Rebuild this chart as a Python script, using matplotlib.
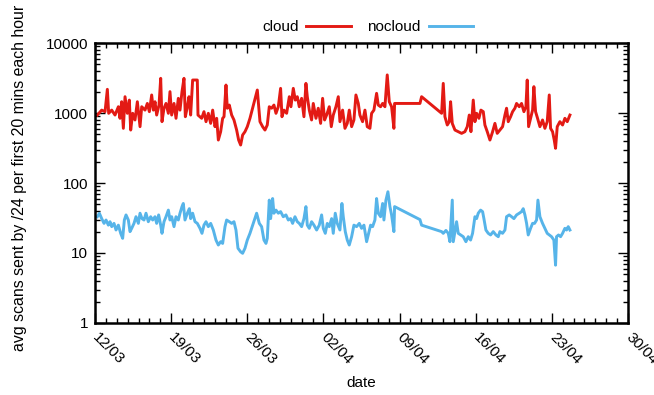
import numpy as np
import pandas as pd
import matplotlib
matplotlib.use('Agg')
import matplotlib.pyplot as plt
import matplotlib.dates as mdates
from matplotlib.ticker import FixedLocator, NullFormatter

plt.rcParams['font.family'] = ['Liberation Sans', 'DejaVu Sans']

# --- data: hours since 12/03 00:00, scans per /24 ---
START = pd.Timestamp('2015-03-12')

cloud_hours = [
    5.1, 14.7, 22.1, 27.2, 30.1, 36.8, 44.1, 51.5, 55.1, 58.8, 62.5, 66.2, 71.3, 75.7, 78.7,
    83.1, 88.2, 93.4, 99.3, 103.0, 110.3, 115.4, 119.9, 125.0, 128.7, 132.4, 136.0, 141.2,
    144.9, 147.8, 152.2, 156.6, 161.8, 165.4, 169.1, 174.3, 178.7, 183.8, 187.5, 191.9,
    196.3, 199.3, 203.7, 207.4, 211.0, 215.4, 225.7, 227.2, 235.3, 240.4, 244.9, 250.0,
    255.2, 259.6, 264.7, 268.4, 272.1, 277.2, 281.6, 284.6, 289.0, 291.9, 296.3, 301.5,
    306.6, 312.5, 316.9, 321.3, 325.7, 330.9, 336.0, 341.9, 358.1, 364.0, 369.8, 375.0,
    380.1, 384.5, 389.7, 394.8, 399.3, 404.4, 409.5, 412.5, 416.9, 422.8, 428.7, 432.3,
    437.5, 441.9, 446.3, 450.7, 455.9, 461.0, 465.4, 468.4, 472.8, 477.9, 481.6, 487.5,
    492.6, 497.8, 502.2, 506.6, 511.0, 516.9, 521.3, 525.7, 531.6, 536.8, 540.4, 546.3,
    551.5, 556.6, 561.0, 566.2, 571.3, 575.7, 580.9, 584.5, 590.4, 595.6, 600.7, 606.6,
    610.3, 615.4, 621.3, 625.0, 630.1, 634.6, 639.7, 644.8, 649.3, 654.4, 659.5, 661.0,
    717.0, 720.6, 764.8, 768.4, 772.1, 777.3, 781.7, 784.6, 788.3, 794.2, 801.5, 808.9,
    816.2, 821.4, 825.8, 829.5, 834.6, 838.3, 842.0, 847.1, 851.5, 856.7, 860.3, 865.5,
    871.4, 877.3, 882.4, 887.5, 893.4, 899.3, 904.5, 908.1, 911.8, 917.0, 921.4, 926.5,
    930.2, 936.1, 941.2, 946.4, 950.8, 953.7, 956.7, 961.1, 965.5, 968.4, 972.1, 976.5,
    981.7, 987.5, 992.7, 997.8, 1002.3, 1005.2, 1009.6, 1013.3, 1016.2, 1019.9, 1025.8,
    1031.7, 1036.8, 1042.0, 1047.9,
]
cloud_vals = [
    935, 1100, 1045, 2180, 990, 1100, 935, 1230, 840, 1450, 604, 1710, 990, 1530, 571,
    990, 795, 1450, 638, 1230, 1100, 1370, 1045, 1810, 1100, 1450, 935, 1300,
    3130, 752, 1170, 1370, 990, 2020, 935, 1370, 840, 1620, 1100, 2020,
    3130, 885, 1230, 1710, 935, 2960, 2960, 935, 840, 1045, 752, 990,
    711, 1100, 638, 840, 411, 541, 840, 885, 2510, 1170, 1300, 935,
    795, 571, 411, 349, 485, 541, 638, 840, 2130, 752, 638, 571,
    674, 1230, 1170, 1300, 990, 1230, 2250, 885, 1100, 990, 1710, 1230,
    2250, 1530, 1710, 1230, 1620, 885, 2650, 1710, 1100, 795, 1370, 840,
    1170, 711, 1620, 795, 935, 1230, 638, 935, 1230, 1710, 752, 1100,
    604, 711, 1100, 638, 795, 1810, 1370, 935, 752, 1100, 638, 604,
    990, 1100, 1910, 1300, 1230, 1370, 1230, 3500, 1450, 1230, 604, 1370,
    1370, 1710, 990, 2650, 885, 674, 752, 1450, 711, 571, 541, 512,
    541, 638, 935, 541, 1530, 752, 990, 840, 1100, 1045, 674, 541,
    411, 541, 711, 512, 571, 638, 935, 1170, 752, 885, 1045, 1170,
    1370, 1230, 1370, 1045, 1230, 2960, 638, 840, 1100, 2380, 1045, 840,
    638, 795, 604, 752, 1810, 604, 541, 411, 313, 638, 752,
    674, 840, 752, 935,
]

nocloud_hours = [
    5.1, 9.6, 14.7, 19.9, 24.3, 29.4, 33.1, 36.8, 41.9, 46.3, 51.5, 56.6, 61.0, 64.7, 68.4,
    73.5, 77.2, 80.9, 86.0, 90.4, 95.6, 99.3, 103.7, 108.1, 112.5, 117.6, 122.8, 127.2,
    132.4, 136.0, 140.4, 144.9, 147.8, 152.2, 156.6, 161.8, 165.4, 169.1, 174.3, 178.7,
    183.8, 187.5, 191.9, 194.8, 198.5, 203.7, 208.1, 211.0, 215.4, 220.6, 225.7, 231.6,
    236.0, 240.4, 244.9, 250.0, 255.2, 261.0, 266.9, 272.1, 277.2, 281.6, 286.8, 290.4,
    296.3, 301.5, 306.6, 311.0, 315.4, 321.3, 325.7, 330.9, 336.0, 341.9, 349.3, 356.6,
    362.5, 367.6, 372.8, 377.2, 380.1, 384.5, 387.5, 391.9, 394.8, 399.3, 404.4, 409.5,
    415.4, 421.3, 426.5, 431.6, 436.0, 441.2, 446.3, 450.7, 455.9, 461.0, 465.4, 468.4,
    472.8, 477.9, 483.1, 489.0, 494.8, 500.0, 503.7, 508.1, 512.5, 516.9, 522.1, 525.7,
    530.1, 534.5, 540.4, 544.8, 547.8, 552.2, 556.6, 561.0, 566.2, 571.3, 577.2, 583.1,
    588.2, 593.4, 599.3, 603.7, 608.1, 612.5, 617.6, 621.3, 625.0, 630.1, 634.6, 637.5,
    641.9, 646.3, 650.7, 654.4, 658.1, 659.5, 661.0, 717.0, 720.6, 764.8, 768.4, 774.3,
    779.5, 783.1, 788.3, 790.5, 794.2, 797.8, 801.5, 806.7, 812.5, 818.4, 823.6, 828.7,
    833.1, 838.3, 842.0, 845.6, 850.8, 855.2, 858.1, 862.5, 867.7, 872.8, 878.7, 884.6,
    889.8, 893.4, 899.3, 904.5, 908.1, 914.0, 919.2, 924.3, 930.2, 936.1, 941.2, 944.9,
    948.6, 952.3, 955.9, 961.1, 965.5, 969.9, 974.3, 977.3, 981.7, 987.5, 992.7, 997.8,
    1002.3, 1007.4, 1012.5, 1016.2, 1018.4, 1022.8, 1027.3, 1031.7, 1036.8, 1040.5,
    1044.2, 1047.9,
]
nocloud_vals = [
    33, 37, 31, 26.5, 29.6, 25, 28, 23.8, 26.5, 21.3, 25, 19.1, 16.2, 29.6, 35,
    29.6, 20.2, 22.5, 26.5, 33, 26.5, 37, 31, 29.6, 37, 28, 33, 29.6,
    33, 26.5, 35, 25, 19.1, 28, 33, 41, 29.6, 33, 23.8, 33,
    29.6, 37, 46, 51, 29.6, 37, 43, 31, 37, 28, 26.5, 22.5,
    19.1, 25, 28, 23.8, 26.5, 21.3, 15.3, 13.0, 14.5, 13.7, 23.8, 29.6,
    28, 26.5, 28, 21.3, 11.7, 10.4, 9.9, 11.7, 15.3, 19.1, 26.5, 37,
    26.5, 23.8, 15.3, 13.7, 16.2, 57, 31, 60, 37, 41, 37, 39,
    33, 35, 29.6, 31, 26.5, 33, 28, 26.5, 23.8, 31, 46, 25,
    22.5, 28, 25, 21.3, 25, 35, 22.5, 19.1, 26.5, 23.8, 31, 19.1,
    37, 26.5, 21.3, 51, 33, 20.2, 15.3, 13.0, 17.1, 25, 23.8, 26.5,
    22.5, 25, 14.5, 19.1, 25, 23.8, 29.6, 60, 37, 33, 51, 29.6,
    57, 75, 46, 35, 23.8, 20.2, 46, 30, 25, 20.2, 19.1, 21,
    19.1, 14.5, 57, 14.5, 20.2, 28, 19.1, 18.1, 17.1, 14.5, 17.1, 15.3,
    19.1, 33, 31, 37, 41, 39, 31, 21.3, 19.1, 18.1, 20.2, 18.1,
    17.1, 20.2, 19.1, 21.3, 33, 35, 33, 31, 35, 37, 39, 43,
    35, 26.5, 18.1, 22.5, 26.5, 26.5, 29.6, 57, 33, 26.5, 22.5, 19.1,
    18.1, 17.1, 15.3, 6.7, 17.1, 18.1, 17.1, 19.1, 22.5, 21.3,
    23.8, 21.3,
]

xtick_dates = ['2015-03-12', '2015-03-19', '2015-03-26', '2015-04-02',
               '2015-04-09', '2015-04-16', '2015-04-23', '2015-04-30']
ytick_vals = [1, 10, 100, 1000, 10000]

cloud_t = START + pd.to_timedelta(cloud_hours, unit='h')
nocloud_t = START + pd.to_timedelta(nocloud_hours, unit='h')

# --- plot ---
fig = plt.figure(figsize=(6.54, 3.95), dpi=100)
ax = fig.add_axes([0.1453, 0.1823, 0.8149, 0.7088])

ax.plot(cloud_t, cloud_vals, color='#e31a14', lw=2.1, label='cloud')
ax.plot(nocloud_t, nocloud_vals, color='#56b4e9', lw=2.1, label='nocloud')

ax.set_yscale('log')
ax.set_ylim(1, 10000)
ax.yaxis.set_major_locator(FixedLocator(ytick_vals))
ax.set_yticklabels([str(v) for v in ytick_vals])
ax.yaxis.set_minor_formatter(NullFormatter())

xt = pd.to_datetime(xtick_dates)
ax.set_xlim(xt[0], xt[-1])
ax.set_xticks(xt)
# last label runs off the right edge, as in the original
ax.set_xticklabels([d.strftime('%d/%m') for d in xt], rotation=-45,
                   ha='left', va='center', rotation_mode='anchor')
ax.xaxis.set_minor_locator(mdates.DayLocator())

ax.tick_params(which='both', direction='in', top=True, right=True, labelsize=11, width=1)
ax.tick_params(which='major', length=7)
ax.tick_params(which='minor', length=3.5)
ax.tick_params(axis='x', which='major', pad=9)
ax.tick_params(axis='y', which='major', pad=5)
for s in ax.spines.values():
    s.set_linewidth(1.8)

ax.set_xlabel('date', fontsize=11)
ax.xaxis.set_label_coords(0.5, -0.19)
ax.set_ylabel('avg scans sent by /24 per first 20 mins each hour', fontsize=11.4)
ax.yaxis.set_label_coords(-0.128, 0.52)

fig.legend(loc='center', bbox_to_anchor=(0.562, 0.932), ncol=2, frameon=False,
           markerfirst=False, fontsize=11, handlelength=2.9, handletextpad=0.5,
           columnspacing=1.1)

fig.savefig('out.png', dpi=100)
